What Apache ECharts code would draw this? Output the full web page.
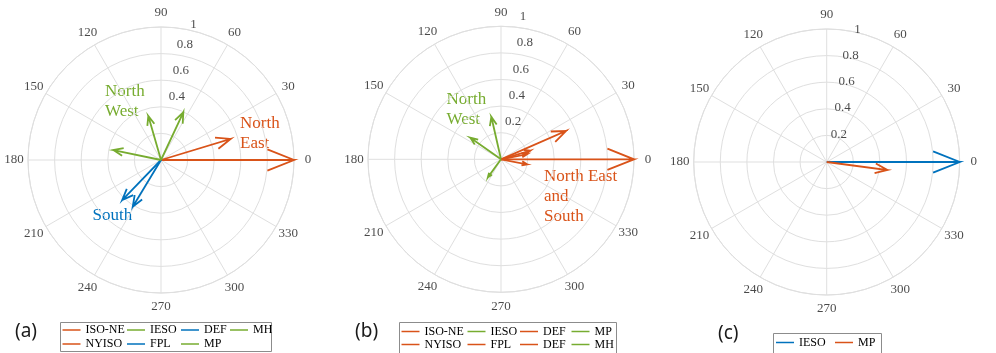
<!DOCTYPE html>
<html>
<head>
<meta charset="utf-8" />
<title>compass plots</title>
<script src="https://cdn.jsdelivr.net/npm/echarts@6/dist/echarts.min.js"></script>
<style type="text/css">
html, body {
	margin: 0;
	padding: 0;
	background: #fff;
}

#main {
	width: 996px;
	height: 353px;
}
</style>
</head>
<body>
	<div id="main"></div>
	<script>
		// tick values
		const angleTicks = [0, 30, 60, 90, 120, 150, 180, 210, 240, 270, 300, 330];
		const rTicksA = [0.4, 0.6, 0.8, 1];
		const rTicksB = [0.2, 0.4, 0.6, 0.8, 1];
		const rTicksC = [0.2, 0.4, 0.6, 0.8, 1];

		// panel (a): legend order, magnitude, direction (deg)
		const namesA = ['ISO-NE', 'NYISO', 'IESO', 'FPL', 'DEF', 'MP', 'MH'];
		const magA = [1.0, 0.547, 0.396, 0.419, 0.41, 0.344, 0.366];
		const angA = [0, 16.8, 64.9, 225.9, 238.8, 106.1, 168.2];

		// panel (b)
		const namesB = ['ISO-NE', 'NYISO', 'IESO', 'FPL', 'DEF', 'DEF', 'MP', 'MH'];
		const magB = [1.0, 0.533, 0.328, 0.23, 0.2, 0.2, 0.282, 0.168];
		const angB = [0, 23.5, 102.8, 16.5, 11, 349, 144.9, 234];

		// panel (c)
		const namesC = ['IESO', 'MP'];
		const magC = [1.0, 0.46];
		const angC = [0, 352.5];

		const ORANGE = '#D95319', GREEN = '#77AC30', BLUE = '#0072BD';
		const GRID = '#dfdfdf', TXT = '#1a1a1a';
		const SERIF = '"Liberation Serif", "Times New Roman", serif';
		const RADIUS = 133;
		const ANGLE_LABEL_GAP = 14;
		const R_LABEL_ANGLE = 81.5;

		const panels = [
			{
				names: namesA, mag: magA, ang: angA, rTicks: rTicksA,
				colors: [ORANGE, ORANGE, GREEN, BLUE, BLUE, GREEN, GREEN],
				center: [161, 160], rOff: [0, -10.5], oneOff: [9.5, -4],
				rows: 2, legendX: [62.5, 127, 181, 230], legendY: [330, 344],
				box: [60.5, 322.5, 211, 29], tag: '(a)', tagX: 15, tagY: 322
			},
			{
				names: namesB, mag: magB, ang: angB, rTicks: rTicksB,
				colors: [ORANGE, ORANGE, GREEN, ORANGE, ORANGE, ORANGE, GREEN, GREEN],
				center: [501, 159.3], rOff: [0, -11], oneOff: [-1, -11],
				rows: 2, legendX: [401.5, 467.5, 520, 571.5], legendY: [331.5, 344.5],
				box: [399.5, 322.5, 217, 34], tag: '(b)', tagX: 355, tagY: 322
			},
			{
				names: namesC, mag: magC, ang: angC, rTicks: rTicksC,
				colors: [BLUE, ORANGE],
				center: [826.7, 162], rOff: [0, -1.5], oneOff: [8, -0.5],
				rows: 1, legendX: [776, 835], legendY: [342.5],
				box: [773.5, 333.5, 108, 24], tag: '(c)', tagX: 718, tagY: 324
			}
		];

		// MATLAB compass style arrow: shaft + two head strokes
		function renderArrow(params, api) {
			let r = api.value(0), a = api.value(1);
			let o = api.coord([0, a]);
			let t = api.coord([r, a]);
			let vx = t[0] - o[0], vy = t[1] - o[1];
			let bx = o[0] + 0.8 * vx, by = o[1] + 0.8 * vy;
			let px = -vy * 0.08, py = vx * 0.08;
			return {
				type: 'polyline',
				shape: { points: [o, t, [bx + px, by + py], t, [bx - px, by - py]] },
				style: { stroke: api.visual('color'), fill: 'none', lineWidth: 1.8, lineJoin: 'miter' }
			};
		}

		let series = [];
		let legends = [];
		let graphics = [];

		panels.forEach(function (p, i) {
			// angle tick labels, sitting on the outer ring and pushed outwards
			series.push({
				type: 'scatter', coordinateSystem: 'polar', polarIndex: i, silent: true,
				symbolSize: 0, z: 3,
				data: angleTicks.map(function (a) {
					let rad = a * Math.PI / 180;
					return {
						value: [1, a],
						label: { offset: [ANGLE_LABEL_GAP * Math.cos(rad), -ANGLE_LABEL_GAP * Math.sin(rad)] }
					};
				}),
				label: {
					show: true, position: 'inside', align: 'center', verticalAlign: 'middle',
					formatter: function (q) { return String(q.value[1]); },
					fontFamily: SERIF, fontSize: 13, color: TXT
				}
			});
			// radius tick labels
			series.push({
				type: 'scatter', coordinateSystem: 'polar', polarIndex: i, silent: true,
				symbolSize: 0, z: 3,
				data: p.rTicks.map(function (r) {
					return { value: [r, R_LABEL_ANGLE], label: { offset: r === 1 ? p.oneOff : p.rOff } };
				}),
				label: {
					show: true, position: 'inside', align: 'left', verticalAlign: 'middle',
					formatter: function (q) { return String(q.value[0]); },
					fontFamily: SERIF, fontSize: 13, color: TXT
				}
			});
			// arrows
			p.names.forEach(function (name, k) {
				series.push({
					type: 'custom', name: name, coordinateSystem: 'polar', polarIndex: i,
					silent: true, z: 5,
					itemStyle: { color: p.colors[k] },
					data: [[p.mag[k], p.ang[k]]],
					renderItem: renderArrow
				});
				// one legend per cell, column-major like MATLAB
				let col = Math.floor(k / p.rows), row = k % p.rows;
				legends.push({
					left: p.legendX[col], top: p.legendY[row] - 7, orient: 'vertical',
					padding: 0, icon: 'rect', itemWidth: 18, itemHeight: 1.5,
					selectedMode: false,
					itemStyle: { borderWidth: 0 },
					textStyle: { fontFamily: SERIF, fontSize: 12, color: '#000', lineHeight: 14 },
					data: [{ name: name, itemStyle: { color: p.colors[k] } }]
				});
			});
			// legend box
			graphics.push({
				type: 'rect', z: 1,
				shape: { x: p.box[0], y: p.box[1], width: p.box[2], height: p.box[3] },
				style: { fill: 'none', stroke: '#8c8c8c', lineWidth: 1 }
			});
		});

		// region annotations
		const noteFont = '17px "Liberation Serif", serif';
		graphics.push(
			{ type: 'text', x: 105, y: 82, style: { text: 'North\nWest', fill: GREEN, font: noteFont, lineHeight: 20, align: 'left', verticalAlign: 'top' } },
			{ type: 'text', x: 240, y: 113.5, style: { text: 'North\nEast', fill: ORANGE, font: noteFont, lineHeight: 20, align: 'left', verticalAlign: 'top' } },
			{ type: 'text', x: 92.5, y: 205.5, style: { text: 'South', fill: BLUE, font: noteFont, lineHeight: 20, align: 'left', verticalAlign: 'top' } },
			{ type: 'text', x: 446.5, y: 89.5, style: { text: 'North\nWest', fill: GREEN, font: noteFont, lineHeight: 20, align: 'left', verticalAlign: 'top' } },
			{ type: 'text', x: 544, y: 167, style: { text: 'North East\nand\nSouth', fill: ORANGE, font: noteFont, lineHeight: 20, align: 'left', verticalAlign: 'top' } }
		);

		let chart = echarts.init(document.getElementById('main'));
		chart.setOption({
			animation: false,
			backgroundColor: '#fff',
			title: panels.map(function (p) {
				return {
					text: p.tag, left: p.tagX, top: p.tagY, padding: 0,
					textStyle: { fontFamily: '"Noto Sans", sans-serif', fontSize: 19, fontWeight: 'normal', color: '#1a1a1a' }
				};
			}),
			polar: panels.map(function (p) {
				return { center: p.center, radius: RADIUS };
			}),
			angleAxis: panels.map(function (p, i) {
				return {
					polarIndex: i, type: 'value', min: 0, max: 360, interval: 30,
					startAngle: 0, clockwise: false,
					axisLine: { show: true, lineStyle: { color: GRID, width: 1 } },
					axisTick: { show: false },
					axisLabel: { show: false },
					splitLine: { show: true, lineStyle: { color: GRID, width: 1 } }
				};
			}),
			radiusAxis: panels.map(function (p, i) {
				return {
					polarIndex: i, type: 'value', min: 0, max: 1, interval: 0.2,
					axisLine: { show: false },
					axisTick: { show: false },
					axisLabel: { show: false },
					splitLine: { show: true, lineStyle: { color: GRID, width: 1 } }
				};
			}),
			legend: legends,
			graphic: graphics,
			series: series
		});
	</script>
</body>
</html>
